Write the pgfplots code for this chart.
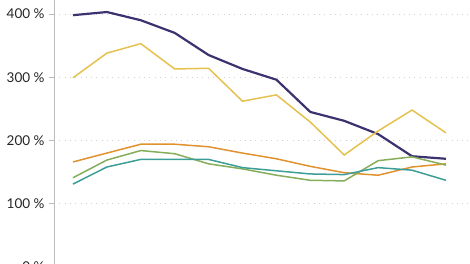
\documentclass[border=0pt]{standalone}
\usepackage{pgfplots}
\pgfplotsset{compat=1.18}
\usepackage{fontspec}
\setmainfont{Lato}
\definecolor{cnavy}{HTML}{3D3270}
\definecolor{cyellow}{HTML}{E5C14D}
\definecolor{corange}{HTML}{E0922F}
\definecolor{cgreen}{HTML}{86AD5A}
\definecolor{cteal}{HTML}{3D9E98}
\definecolor{caxis}{HTML}{BBBBBB}
\begin{document}
\begin{tikzpicture}
\begin{axis}[
  scale only axis,
  x=33.9pt, y=0.6325pt,
  xmin=-0.56, xmax=11.71,
  ymin=0, ymax=422,
  hide x axis,
  axis y line*=left,
  axis line style={caxis, line width=0.8pt, -},
  ytick={0,100,200,300,400},
  yticklabels={0 \%,100 \%,200 \%,300 \%,400 \%},
  tick align=outside,
  major tick length=5pt,
  ytick style={caxis, line width=0.8pt},
  yticklabel style={font=\fontsize{13.5}{16}\selectfont, text=black!85, xshift=-1pt},
  ymajorgrids,
  grid style={gray!35, line width=0.8pt, dash pattern=on 0.8pt off 4.5pt},
  clip=false,
]
\addplot[cnavy, line width=2.2pt] coordinates {(0,398)(1,403)(2,390)(3,370)(4,335)(5,313)(6,296)(7,245)(8,231)(9,210)(10,175)(11,171)};
\addplot[cyellow, line width=1.5pt] coordinates {(0,299)(1,338)(2,353)(3,313)(4,314)(5,262)(6,272)(7,229)(8,177)(9,215)(10,248)(11,212)};
\addplot[corange, line width=1.5pt] coordinates {(0,166)(1,180)(2,194)(3,194)(4,190)(5,180)(6,171)(7,159)(8,149)(9,145)(10,158)(11,163)};
\addplot[cgreen, line width=1.5pt] coordinates {(0,141)(1,169)(2,184)(3,179)(4,163)(5,155)(6,145)(7,137)(8,136)(9,168)(10,174)(11,161)};
\addplot[cteal, line width=1.5pt] coordinates {(0,131)(1,158)(2,170)(3,170)(4,170)(5,157)(6,152)(7,147)(8,146)(9,157)(10,153)(11,137)};
\coordinate (bl) at (axis cs:-0.56,4.7);
\coordinate (tr) at (axis cs:11.71,422);
\end{axis}
\pgfresetboundingbox
\useasboundingbox ([xshift=-54pt]bl) rectangle (tr);
\end{tikzpicture}
\end{document}
